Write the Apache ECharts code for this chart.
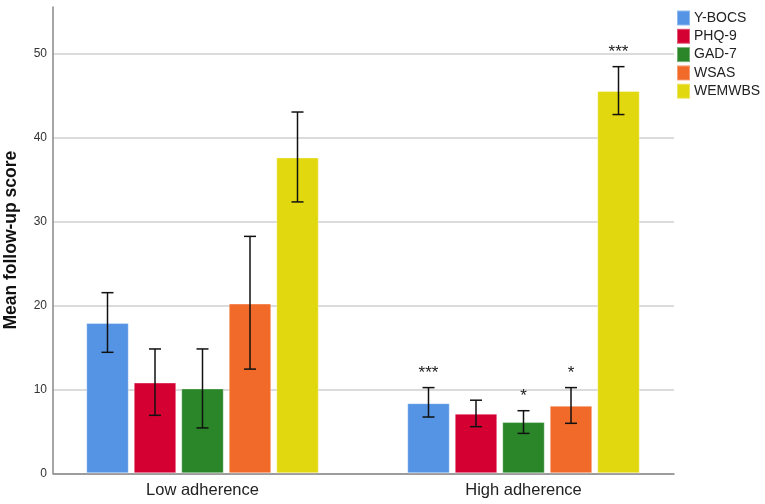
<!DOCTYPE html>
<html>
<head>
<meta charset="utf-8">
<script src="https://cdn.jsdelivr.net/npm/echarts@6/dist/echarts.min.js"></script>
<style>html,body{margin:0;padding:0;background:#fff}#c{width:765px;height:504px}</style>
</head>
<body>
<div id="c"></div>
<script>
const categories = ['Low adherence', 'High adherence'];
const seriesNames = ['Y-BOCS', 'PHQ-9', 'GAD-7', 'WSAS', 'WEMWBS'];
const yBocs = [17.9, 8.35];
const phq9 = [10.8, 7.1];
const gad7 = [10.1, 6.1];
const wsas = [20.2, 8.05];
const wemwbs = [37.6, 45.5];
const yBocsCI = [[14.4, 21.5], [6.7, 10.2]];
const phq9CI = [[6.9, 14.8], [5.55, 8.7]];
const gad7CI = [[5.4, 14.8], [4.75, 7.45]];
const wsasCI = [[12.4, 28.2], [5.95, 10.2]];
const wemwbsCI = [[32.3, 43.0], [42.7, 48.4]];
const yBocsStars = ['', '***'];
const phq9Stars = ['', ''];
const gad7Stars = ['', '*'];
const wsasStars = ['', '*'];
const wemwbsStars = ['', '***'];
const yTicks = [0, 10, 20, 30, 40, 50];

const means = [yBocs, phq9, gad7, wsas, wemwbs];
const cis = [yBocsCI, phq9CI, gad7CI, wsasCI, wemwbsCI];
const stars = [yBocsStars, phq9Stars, gad7Stars, wsasStars, wemwbsStars];
const colors = ['#5594E4', '#D50032', '#2A8629', '#F26A2A', '#E2D80F'];

const BAR_FRAC = 42.5 / 321;
const STEP_FRAC = 47.5 / 321;
const Y_MAX = 55.5;
const FONT = '"Liberation Sans", Arial, sans-serif';

const errData = [];
cis.forEach((ci, si) => ci.forEach((r, ci2) => errData.push([ci2, r[0], r[1], si, stars[si][ci2]])));

const barSeries = seriesNames.map((n, i) => ({
  name: n, type: 'bar', xAxisIndex: 2, yAxisIndex: 2,
  data: means[i],
  barWidth: (BAR_FRAC * 100) + '%',
  barGap: ((STEP_FRAC - BAR_FRAC) / BAR_FRAC * 100) + '%',
  itemStyle: { color: colors[i], borderColor: 'rgba(255,255,255,0.35)', borderWidth: 1 },
  emphasis: { disabled: true },
  z: 2
}));

const gridBase = { containLabel: false, outerBoundsMode: 'none' };
const chart = echarts.init(document.getElementById('c'), null, { renderer: 'canvas' });
chart.setOption({
  animation: false,
  textStyle: { fontFamily: FONT },
  grid: [
    Object.assign({ left: 53, width: 621, top: 7, bottom: 30.7 }, gridBase),
    Object.assign({ left: 53, width: 621, top: 53.3, bottom: 30.7 }, gridBase),
    Object.assign({ left: 42, width: 642, top: 7, bottom: 30.7 }, gridBase)
  ],
  legend: {
    orient: 'vertical', left: 676, top: 9.5, padding: 0,
    itemWidth: 13, itemHeight: 15, itemGap: 1.3, icon: 'rect',
    textStyle: { fontSize: 14, lineHeight: 15, color: '#222', fontFamily: FONT, padding: [0, 0, 0, -1] },
    data: seriesNames
  },
  xAxis: [
    { gridIndex: 0, type: 'category', data: categories, axisLine: { show: true, lineStyle: { color: '#888', width: 1.5 } }, axisTick: { show: false }, axisLabel: { show: false } },
    { gridIndex: 1, type: 'category', data: categories, show: false },
    { gridIndex: 2, type: 'category', data: categories, axisLine: { show: false }, axisTick: { show: false },
      axisLabel: { fontSize: 16.5, color: '#222', margin: 9, fontFamily: FONT } }
  ],
  yAxis: [
    { gridIndex: 0, type: 'value', min: 0, max: Y_MAX, interval: 10,
      name: 'Mean follow-up score', nameLocation: 'middle', nameGap: 33,
      nameTextStyle: { fontSize: 17.5, fontWeight: 'bold', color: '#111', fontFamily: FONT },
      axisLine: { show: true, lineStyle: { color: '#888', width: 1.5 } },
      axisTick: { show: false }, splitLine: { show: false },
      axisLabel: { fontSize: 12, color: '#333', margin: 6, showMaxLabel: false, fontFamily: FONT,
        formatter: v => yTicks.includes(v) ? String(v) : '' } },
    { gridIndex: 1, type: 'value', min: 0, max: 50, interval: 10,
      axisLine: { show: false }, axisTick: { show: false }, axisLabel: { show: false },
      splitLine: { show: true, lineStyle: { color: '#cfcfcf', width: 1.5 } } },
    { gridIndex: 2, type: 'value', min: 0, max: Y_MAX, show: false, splitLine: { show: false } }
  ],
  series: barSeries.concat([{
    type: 'custom', xAxisIndex: 2, yAxisIndex: 2, z: 5,
    data: errData,
    silent: true,
    renderItem: function (params, api) {
      const cat = api.value(0), lo = api.value(1), hi = api.value(2), si = api.value(3);
      const band = api.size([1, 0])[0];
      const off = (si - 2) * band * STEP_FRAC;
      const pLo = api.coord([cat, lo]);
      const pHi = api.coord([cat, hi]);
      const x = pLo[0] + off;
      const cap = 6;
      const style = { stroke: '#111', lineWidth: 1.5 };
      const children = [
        { type: 'line', shape: { x1: x, y1: pLo[1], x2: x, y2: pHi[1] }, style },
        { type: 'line', shape: { x1: x - cap, y1: pLo[1], x2: x + cap, y2: pLo[1] }, style },
        { type: 'line', shape: { x1: x - cap, y1: pHi[1], x2: x + cap, y2: pHi[1] }, style }
      ];
      const s = errData[params.dataIndex][4];
      if (s) {
        children.push({ type: 'text', style: { text: s, x: x, y: pHi[1] - 14, align: 'center', verticalAlign: 'middle',
          font: '17px ' + FONT, fill: '#222' } });
      }
      return { type: 'group', children };
    }
  }])
});
</script>
</body>
</html>
